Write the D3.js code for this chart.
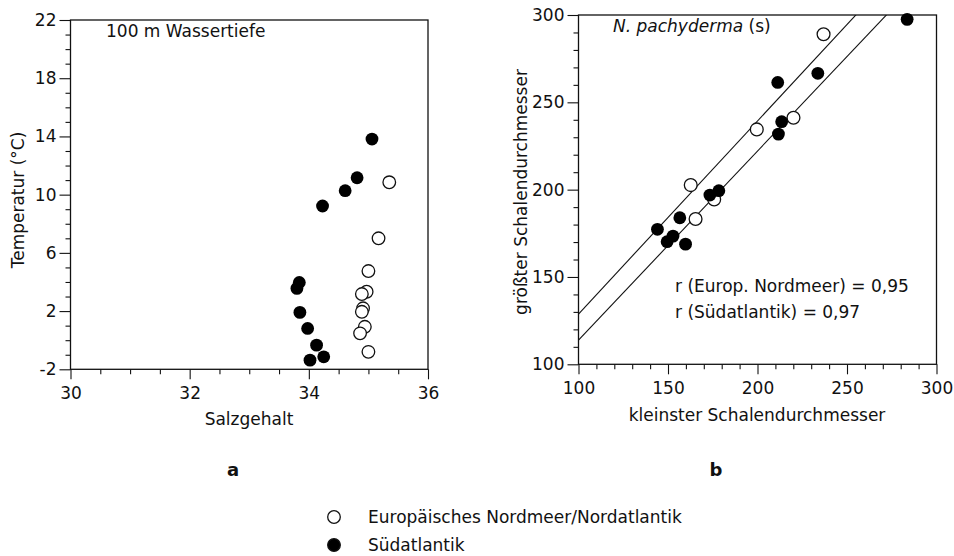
<!DOCTYPE html>
<html><head><meta charset="utf-8">
<script src="https://cdn.jsdelivr.net/npm/d3@7"></script>
<style>
body{margin:0;background:#fff;}
svg text{font-family:"DejaVu Sans",sans-serif;fill:#111;}
</style></head>
<body><svg id="c" width="954" height="556"></svg>
<script>
// ---- Panel a: Temperatur vs Salzgehalt (100 m Wassertiefe)
const salzNord = [35.35, 35.17, 35.0, 34.97, 34.89, 34.91, 34.89, 34.94, 34.86, 35.0];
const tempNord = [10.85, 7.0, 4.75, 3.33, 3.17, 2.19, 1.95, 0.92, 0.47, -0.8];
const salzSued = [35.06, 34.81, 34.61, 34.23, 33.84, 33.8, 33.85, 33.98, 34.13, 34.25, 34.02];
const tempSued = [13.82, 11.16, 10.27, 9.22, 3.97, 3.56, 1.91, 0.81, -0.34, -1.14, -1.37];
const aXTicks = [30, 32, 34, 36];
const aYTicks = [-2, 2, 6, 10, 14, 18, 22];

// ---- Panel b: größter vs kleinster Schalendurchmesser
const kleinNord = [236.9, 220.1, 199.6, 162.7, 165.4, 175.8];
const grossNord = [289, 241.2, 234.5, 202.6, 183.2, 194.4];
const kleinSued = [283.6, 233.7, 211.3, 213.5, 211.7, 178.4, 173.4, 156.6, 144.1, 152.8, 149.5, 159.8];
const grossSued = [297.5, 266.6, 261.4, 238.9, 231.8, 199.4, 196.9, 183.9, 177.3, 173.4, 170.2, 168.8];
const regIntercept100 = [128.8, 113.9];   // value at x = 100
const regSlope = [1.105, 1.082];
const bXTicks = [100, 150, 200, 250, 300];
const bYTicks = [100, 150, 200, 250, 300];

const legendLabels = ["Europäisches Nordmeer/Nordatlantik", "Südatlantik"];

const svg = d3.select("#c");
const FS = 17;
const fmt = d => String(d);

function panel(opt){
  const g = svg.append("g");
  const x = d3.scaleLinear().domain(opt.xd).range(opt.xr);
  const y = d3.scaleLinear().domain(opt.yd).range(opt.yr);
  g.append("g").attr("transform",`translate(0,${opt.yr[0]})`)
    .call(d3.axisBottom(x).tickValues(opt.xMinor).tickSize(5).tickFormat(""))
    .call(s=>s.select(".domain").remove());
  g.append("g").attr("transform",`translate(${opt.xr[0]},0)`)
    .call(d3.axisLeft(y).tickValues(opt.yMinor).tickSize(5).tickFormat(""))
    .call(s=>s.select(".domain").remove());
  const xa = g.append("g").attr("transform",`translate(0,${opt.yr[0]})`)
    .call(d3.axisBottom(x).tickValues(opt.xTicks).tickSize(10).tickPadding(8).tickFormat(fmt));
  xa.select(".domain").remove();
  const ya = g.append("g").attr("transform",`translate(${opt.xr[0]},0)`)
    .call(d3.axisLeft(y).tickValues(opt.yTicks).tickSize(11).tickPadding(3).tickFormat(fmt));
  ya.select(".domain").remove();
  g.selectAll(".tick text").attr("font-size",FS).attr("font-family",'"DejaVu Sans",sans-serif').attr("fill","#111");
  g.selectAll(".tick line").attr("stroke","#111").attr("stroke-width",1.1);
  g.append("rect").attr("x",opt.xr[0]).attr("y",opt.yr[1])
    .attr("width",opt.xr[1]-opt.xr[0]).attr("height",opt.yr[0]-opt.yr[1])
    .attr("fill","none").attr("stroke","#111").attr("stroke-width",1.3);
  return {g,x,y};
}

function range(a,b,s){const r=[];for(let v=a;v<=b+1e-9;v+=s)r.push(+v.toFixed(4));return r;}

// Panel a
const A = panel({xd:[30,36], xr:[70.5,428], yd:[-2,22], yr:[369.3,20],
  xTicks:aXTicks, yTicks:aYTicks,
  xMinor:range(30,36,0.5).filter(v=>!aXTicks.includes(v)),
  yMinor:range(-2,22,1).filter(v=>!aYTicks.includes(v))});
A.g.selectAll(".nord").data(salzNord).join("circle")
  .attr("cx",(d)=>A.x(d)).attr("cy",(d,i)=>A.y(tempNord[i])).attr("r",6.3)
  .attr("fill","#fff").attr("stroke","#111").attr("stroke-width",1.3);
A.g.selectAll(".sued").data(salzSued).join("circle")
  .attr("cx",(d)=>A.x(d)).attr("cy",(d,i)=>A.y(tempSued[i])).attr("r",6.4)
  .attr("fill","#000");
A.g.append("text").attr("x",106).attr("y",36.5).attr("font-size",FS).text("100 m Wassertiefe");
A.g.append("text").attr("x",249).attr("y",424.5).attr("text-anchor","middle").attr("font-size",FS).text("Salzgehalt");
A.g.append("text").attr("transform","translate(24,200) rotate(-90)").attr("text-anchor","middle").attr("font-size",FS).text("Temperatur (°C)");
svg.append("text").attr("x",233).attr("y",476).attr("text-anchor","middle").attr("font-size",18).attr("font-weight","bold").text("a");

// Panel b
const B = panel({xd:[100,300], xr:[578.5,936.5], yd:[100,300], yr:[364.3,15],
  xTicks:bXTicks, yTicks:bYTicks,
  xMinor:range(100,300,10).filter(v=>!bXTicks.includes(v)),
  yMinor:range(100,300,10).filter(v=>!bYTicks.includes(v))});
svg.append("clipPath").attr("id","clipB").append("rect")
  .attr("x",578.5).attr("y",15).attr("width",358).attr("height",349.3);
const lineGen = d3.line().x(d=>B.x(d[0])).y(d=>B.y(d[1]));
regIntercept100.forEach((b0,i)=>{
  const pts = [100,300].map(xv=>[xv, b0 + regSlope[i]*(xv-100)]);
  B.g.append("path").attr("d",lineGen(pts)).attr("clip-path","url(#clipB)")
    .attr("fill","none").attr("stroke","#111").attr("stroke-width",1.1);
});
B.g.selectAll(".nord").data(kleinNord).join("circle")
  .attr("cx",(d)=>B.x(d)).attr("cy",(d,i)=>B.y(grossNord[i])).attr("r",6.4)
  .attr("fill","#fff").attr("stroke","#111").attr("stroke-width",1.3);
B.g.selectAll(".sued").data(kleinSued).join("circle")
  .attr("cx",(d)=>B.x(d)).attr("cy",(d,i)=>B.y(grossSued[i])).attr("r",6.4)
  .attr("fill","#000");
const t1 = B.g.append("text").attr("x",613).attr("y",31.7).attr("font-size",FS);
t1.append("tspan").attr("font-style","italic").text("N. pachyderma");
t1.append("tspan").text(" (s)");
B.g.append("text").attr("x",675).attr("y",291.7).attr("font-size",FS).text("r (Europ. Nordmeer) = 0,95");
B.g.append("text").attr("x",675).attr("y",318.3).attr("font-size",FS).text("r (Südatlantik) = 0,97");
B.g.append("text").attr("x",757).attr("y",421).attr("text-anchor","middle").attr("font-size",FS).text("kleinster Schalendurchmesser");
B.g.append("text").attr("transform","translate(527,192) rotate(-90)").attr("text-anchor","middle").attr("font-size",FS).text("größter Schalendurchmesser");
svg.append("text").attr("x",716).attr("y",476).attr("text-anchor","middle").attr("font-size",18).attr("font-weight","bold").text("b");

// Legend
const leg = svg.append("g");
legendLabels.forEach((lab,i)=>{
  const cy = 517 + i*28;
  leg.append("circle").attr("cx",334).attr("cy",cy).attr("r",6.3)
    .attr("fill", i===0 ? "#fff" : "#000").attr("stroke","#111").attr("stroke-width",1.3);
  leg.append("text").attr("x",368).attr("y",cy+6).attr("font-size",FS).text(lab);
});
</script></body></html>
